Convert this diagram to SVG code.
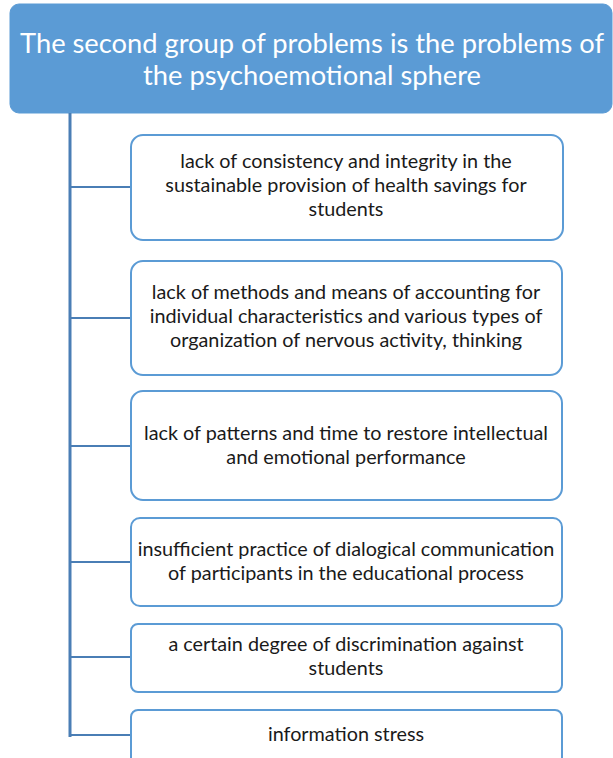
<svg xmlns="http://www.w3.org/2000/svg" width="613" height="758" viewBox="0 0 613 758">
  <style>
    .head { fill: #5b9bd5; stroke: #5b9bd5; stroke-width: 1; }
    .head-text { font-family: Lato, "Open Sans", sans-serif; font-size: 27.3px; fill: #ffffff; text-anchor: middle; }
    .item { fill: #ffffff; stroke: #5b9bd5; stroke-width: 2; }
    .item-text { font-family: Lato, "Open Sans", sans-serif; font-size: 19.8px; fill: #1a1a1a; text-anchor: middle; }
    .link { stroke: #4a7eb5; fill: none; }
  </style>
  <rect width="613" height="758" fill="#ffffff"/>

  <g id="header">
    <rect class="head" x="10" y="4" width="602" height="109" rx="9"/>
    <text class="head-text" x="312" y="53">The second group of problems is the problems of</text>
    <text class="head-text" x="312" y="85">the psychoemotional sphere</text>
  </g>

  <g id="connectors">
    <line class="link" x1="70" y1="113" x2="70" y2="737" stroke-width="3"/>
    <line class="link" x1="70" y1="187" x2="131" y2="187" stroke-width="2"/>
    <line class="link" x1="70" y1="318" x2="131" y2="318" stroke-width="2"/>
    <line class="link" x1="70" y1="446" x2="131" y2="446" stroke-width="2"/>
    <line class="link" x1="70" y1="562" x2="131" y2="562" stroke-width="2"/>
    <line class="link" x1="70" y1="657" x2="131" y2="657" stroke-width="2"/>
    <line class="link" x1="70" y1="735" x2="131" y2="735" stroke-width="2"/>
  </g>

  <g id="item1">
    <rect class="item" x="131" y="135" width="432" height="105" rx="12"/>
    <text class="item-text" x="346" y="168">lack of consistency and integrity in the</text>
    <text class="item-text" x="346" y="192">sustainable provision of health savings for</text>
    <text class="item-text" x="346" y="216">students</text>
  </g>

  <g id="item2">
    <rect class="item" x="131" y="261" width="431" height="114" rx="12"/>
    <text class="item-text" x="346" y="299">lack of methods and means of accounting for</text>
    <text class="item-text" x="346" y="323">individual characteristics and various types of</text>
    <text class="item-text" x="346" y="347">organization of nervous activity, thinking</text>
  </g>

  <g id="item3">
    <rect class="item" x="131" y="391" width="431" height="109" rx="12"/>
    <text class="item-text" x="346" y="440">lack of patterns and time to restore intellectual</text>
    <text class="item-text" x="346" y="464">and emotional performance</text>
  </g>

  <g id="item4">
    <rect class="item" x="131" y="518" width="431" height="88" rx="9"/>
    <text class="item-text" x="346" y="556">insufficient practice of dialogical communication</text>
    <text class="item-text" x="346" y="580">of participants in the educational process</text>
  </g>

  <g id="item5">
    <rect class="item" x="131" y="624" width="431" height="68" rx="7"/>
    <text class="item-text" x="346" y="651">a certain degree of discrimination against</text>
    <text class="item-text" x="346" y="675">students</text>
  </g>

  <g id="item6">
    <rect class="item" x="131" y="710" width="431" height="60" rx="7"/>
    <text class="item-text" x="346" y="741">information stress</text>
  </g>
</svg>
